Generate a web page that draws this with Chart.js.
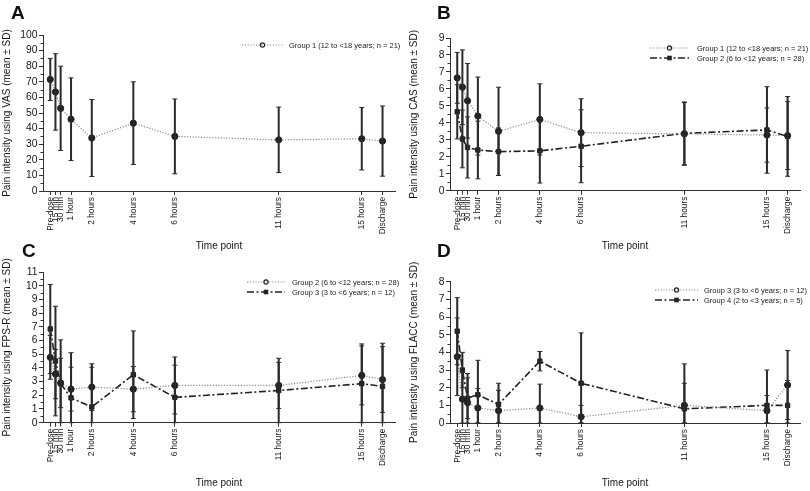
<!DOCTYPE html>
<html><head><meta charset="utf-8">
<script src="https://cdn.jsdelivr.net/npm/chart.js@4/dist/chart.umd.min.js"></script>
<style>
html,body{margin:0;padding:0;background:#fff;}
body{width:810px;height:491px;position:relative;overflow:hidden;font-family:"Liberation Sans",Arial,sans-serif;}
canvas{position:absolute;}
.lbl{position:absolute;font:bold 19px "Liberation Sans",Arial,sans-serif;color:#111;line-height:19px;}
</style></head><body>
<canvas id="cA" width="405" height="256" style="left:0;top:0"></canvas>
<canvas id="cB" width="405" height="256" style="left:405px;top:0"></canvas>
<canvas id="cC" width="405" height="246" style="left:0;top:245px"></canvas>
<canvas id="cD" width="405" height="246" style="left:405px;top:245px"></canvas>
<div class="lbl" style="left:11px;top:3px">A</div>
<div class="lbl" style="left:437px;top:3px">B</div>
<div class="lbl" style="left:22px;top:241px">C</div>
<div class="lbl" style="left:437px;top:241px">D</div>
<script>
// ---- data ----
const timeHours = [0, 0.25, 0.5, 1, 2, 4, 6, 11, 15, 16];
const timeLabels = ['Pre-dose','15 min','30 min','1 hour','2 hours','4 hours','6 hours','11 hours','15 hours','Discharge'];

const vasG1Mean = [71.5, 63.5, 53, 46, 34, 43.5, 35, 32.8, 33.5, 32];
const vasG1SD   = [13.5, 24.5, 27, 26.5, 24.7, 26.5, 24, 21, 20, 22.5];

const casG1Mean = [6.65, 6.1, 5.3, 4.4, 3.5, 4.2, 3.42, 3.35, 3.28, 3.25];
const casG1SD   = [1.5, 2.2, 2.2, 2.3, 2.6, 2.1, 2.0, 1.85, 1.6, 2.0];
const casG2Mean = [4.65, 3.05, 2.55, 2.4, 2.3, 2.35, 2.62, 3.38, 3.58, 3.2];
const casG2SD   = [1.6, 1.7, 1.8, 1.7, 1.4, 1.9, 2.15, 1.85, 2.55, 2.35];

const fpsG2Mean = [4.77, 3.55, 2.9, 2.45, 2.6, 2.45, 2.72, 2.72, 3.45, 3.15];
const fpsG2SD   = [1.6, 1.8, 1.8, 1.6, 1.7, 1.65, 2.08, 1.68, 2.15, 2.4];
const fpsG3Mean = [6.84, 4.5, 2.85, 1.81, 1.15, 3.5, 1.85, 2.35, 2.85, 2.65];
const fpsG3SD   = [3.25, 4.0, 3.2, 3.3, 2.9, 3.2, 2.35, 2.35, 2.9, 3.15];

const flaccG3Mean = [3.75, 1.35, 1.15, 0.85, 0.7, 0.85, 0.35, 1.0, 0.7, 2.15];
const flaccG3SD   = [2.2, 1.5, 1.65, 1.1, 1.15, 1.35, 0.65, 1.25, 0.85, 1.95];
const flaccG4Mean = [5.2, 3.0, 1.4, 1.6, 1.05, 3.5, 2.25, 0.8, 1.0, 1.0];
const flaccG4SD   = [1.9, 1.0, 1.15, 1.95, 1.2, 0.55, 2.85, 2.55, 2.0, 1.4];

const labelG1 = 'Group 1 (12 to <18 years; n = 21)';
const labelG2 = 'Group 2 (6 to <12 years; n = 28)';
const labelG3 = 'Group 3 (3 to <6 years; n = 12)';
const labelG4 = 'Group 4 (2 to <3 years; n = 5)';

// ---- styles ----
const FONT = '"Liberation Sans", Arial, sans-serif';
const INK = '#151515';
const dottedStyle = {color:'#8a8a8a', width:1.2, dash:[1.2,1.6], point:'circle'};
const dashDotStyle = {color:'#222', width:1.6, dash:[7,2.5,2,2.5], point:'rect'};

// ---- plugins ----
const errorBars = {
  id:'errorBars',
  afterDatasetsDraw(chart){
    const {ctx, scales:{x, y}} = chart;
    ctx.save();
    ctx.strokeStyle = '#2a2a2a';
    chart.data.datasets.forEach(ds => {
      ds.data.forEach((pt, j) => {
        const sd = ds.sd[j];
        const px = x.getPixelForValue(pt.x);
        const yHi = y.getPixelForValue(pt.y + sd);
        const yLo = y.getPixelForValue(Math.max(pt.y - sd, 0));
        ctx.lineWidth = 2;
        ctx.beginPath(); ctx.moveTo(px, yHi); ctx.lineTo(px, yLo); ctx.stroke();
        ctx.lineWidth = 1;
        ctx.beginPath();
        ctx.moveTo(px-2.5, yHi); ctx.lineTo(px+2.5, yHi);
        ctx.moveTo(px-2.5, yLo); ctx.lineTo(px+2.5, yLo);
        ctx.stroke();
      });
    });
    ctx.restore();
  }
};

const minorTicks = {
  id:'minorTicks',
  afterDraw(chart){
    const {ctx, scales:{y}} = chart;
    const step = chart.options.scales.y.ticks.stepSize;
    ctx.save();
    ctx.strokeStyle = '#333'; ctx.lineWidth = 1;
    for (let v = step/2; v < y.max; v += step) {
      const py = Math.round(y.getPixelForValue(v)) + 0.5;
      ctx.beginPath(); ctx.moveTo(y.right - 2.5, py); ctx.lineTo(y.right, py); ctx.stroke();
    }
    ctx.restore();
  }
};

const lineLegend = {
  id:'lineLegend',
  afterDraw(chart, args, opts){
    const {ctx} = chart;
    ctx.save();
    chart.data.datasets.forEach((ds, i) => {
      const yy = opts.ys[i];
      ctx.strokeStyle = ds.borderColor;
      ctx.lineWidth = ds.borderWidth;
      ctx.setLineDash(ds.borderDash);
      ctx.beginPath(); ctx.moveTo(opts.x0, yy); ctx.lineTo(opts.x1, yy); ctx.stroke();
      ctx.setLineDash([]);
      const mx = (opts.x0 + opts.x1) / 2;
      ctx.fillStyle = '#222'; ctx.strokeStyle = '#222'; ctx.lineWidth = 1.2;
      if (ds.pointStyle === 'rect') {
        ctx.fillRect(mx-2.3, yy-2.3, 4.6, 4.6);
      } else {
        ctx.beginPath(); ctx.arc(mx, yy, 2.1, 0, Math.PI*2); ctx.stroke();
      }
      ctx.fillStyle = '#1a1a1a';
      ctx.font = '7.5px ' + FONT;
      ctx.textBaseline = 'middle';
      ctx.textAlign = 'left';
      ctx.fillText(ds.label, opts.tx, yy + 0.5);
    });
    ctx.restore();
  }
};

function makeDataset(label, mean, sd, st){
  return {
    label, sd,
    data: timeHours.map((t, i) => ({x:t, y:mean[i]})),
    borderColor: st.color, borderWidth: st.width, borderDash: st.dash,
    pointStyle: st.point, pointRadius: 3.1, pointBorderWidth: 1,
    pointBackgroundColor: '#222', pointBorderColor: '#222',
    fill:false, tension:0
  };
}

function makeChart(id, cfg){
  const canvas = document.getElementById(id);
  const W = canvas.width, H = canvas.height;
  const yTicks = [];
  for (let v = 0; v <= cfg.ymax + 1e-9; v += cfg.step) yTicks.push({value:v});
  new Chart(canvas, {
    type:'line',
    data:{datasets: cfg.datasets},
    options:{
      responsive:false, animation:false, devicePixelRatio:1,
      layout:{padding:{left:0, top:cfg.top, right:W - cfg.right, bottom:cfg.padB}},
      plugins:{legend:{display:false}, tooltip:{enabled:false}, lineLegend: cfg.legend},
      scales:{
        x:{
          type:'linear', min:-0.35, max:16.6,
          afterBuildTicks: s => { s.ticks = timeHours.map(v => ({value:v})); },
          afterFit: s => { s.height = H - cfg.padB - cfg.bottom; },
          ticks:{autoSkip:false, minRotation:90, maxRotation:90, padding:2, color:INK,
                 font:{family:FONT, size:8.3},
                 callback:(v, i) => timeLabels[i]},
          grid:{display:true, drawOnChartArea:false, tickLength:4, color:'#333'},
          border:{display:true, color:'#333', width:1},
          title:{display:true, text:'Time point', color:INK, font:{family:FONT, size:10}, padding:0}
        },
        y:{
          min:0, max:cfg.ymax,
          afterBuildTicks: s => { s.ticks = yTicks.map(t => ({value:t.value})); },
          afterFit: s => { s.width = cfg.left; },
          ticks:{stepSize:cfg.step, autoSkip:false, padding:1.5, color:INK, font:{family:FONT, size:10.3},
                 callback:(v) => String(Math.round(v))},
          grid:{display:true, drawOnChartArea:false, tickLength:4, color:'#333'},
          border:{display:true, color:'#333', width:1},
          title:{display:true, text:cfg.ytitle, color:INK, font:{family:FONT, size:10}, padding:{top:cfg.ytPad, bottom:0}}
        }
      }
    },
    plugins:[errorBars, minorTicks, lineLegend]
  });
}

makeChart('cA', {
  left:43, right:395, top:35, bottom:191, padB:3.5, ymax:100, step:10, ytPad:1.5,
  ytitle:'Pain intensity using VAS (mean ± SD)',
  datasets:[makeDataset(labelG1, vasG1Mean, vasG1SD, dottedStyle)],
  legend:{x0:242, x1:283, tx:289, ys:[45]}
});
makeChart('cB', {
  left:45, right:395, top:38, bottom:190.7, padB:3.5, ymax:9, step:1, ytPad:3,
  ytitle:'Pain intensity using CAS (mean ± SD)',
  datasets:[makeDataset(labelG1, casG1Mean, casG1SD, dottedStyle),
            makeDataset(labelG2, casG2Mean, casG2SD, dashDotStyle)],
  legend:{x0:245, x1:284, tx:292, ys:[48, 58]}
});
makeChart('cC', {
  left:43, right:395, top:27, bottom:177.7, padB:2, ymax:11, step:1, ytPad:1.5,
  ytitle:'Pain intensity using FPS-R (mean ± SD)',
  datasets:[makeDataset(labelG2, fpsG2Mean, fpsG2SD, dottedStyle),
            makeDataset(labelG3, fpsG3Mean, fpsG3SD, dashDotStyle)],
  legend:{x0:247, x1:285, tx:292, ys:[37, 47]}
});
makeChart('cD', {
  left:45, right:395, top:36.7, bottom:178, padB:2, ymax:8, step:1, ytPad:3,
  ytitle:'Pain intensity using FLACC (mean ± SD)',
  datasets:[makeDataset(labelG3, flaccG3Mean, flaccG3SD, dottedStyle),
            makeDataset(labelG4, flaccG4Mean, flaccG4SD, dashDotStyle)],
  legend:{x0:250, x1:293, tx:299, ys:[45, 55]}
});
</script>
</body></html>
